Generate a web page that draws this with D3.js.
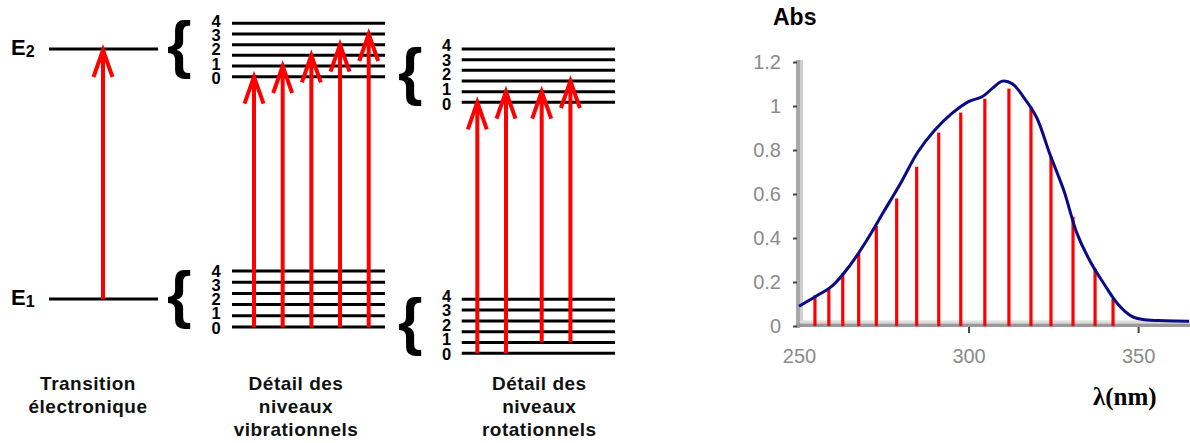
<!DOCTYPE html>
<html><head><meta charset="utf-8">
<script src="https://cdn.jsdelivr.net/npm/d3@7"></script>
<style>body{margin:0;background:#fff}svg{display:block}</style>
</head><body>
<svg id="c" width="1190" height="443"></svg>
<script>
// ---------- DATA ----------
// Energy diagram
const electronicLevels = [1, 2];                 // E1, E2
const vibLines = [0, 1, 2, 3, 4, 5];             // drawn level lines
const levelLabels = ["0", "1", "2", "3", "4"];   // printed quantum numbers
const vibTransitions = [[0, 0], [0, 1], [0, 2], [0, 3], [0, 4]];   // [lower v, upper v]
const rotTransitions = [[0, 0], [0, 1], [1, 1], [1, 2]];           // [lower J, upper J]
const rotGroups = [0, 0, 1, 1];
const captions = [
  ["Transition", "électronique"],
  ["Détail des", "niveaux", "vibrationnels"],
  ["Détail des", "niveaux", "rotationnels"]
];
// Absorption spectrum
const curveNm  = [250, 255, 260, 265, 270, 275, 280, 285, 290, 295, 300, 304, 307, 310, 313, 316, 320, 324, 328, 332, 336, 340, 344, 348, 352, 358, 365];
const curveAbs = [0.09, 0.135, 0.185, 0.275, 0.39, 0.52, 0.65, 0.79, 0.89, 0.965, 1.02, 1.042, 1.08, 1.113, 1.1, 1.045, 0.95, 0.78, 0.62, 0.42, 0.29, 0.19, 0.1, 0.045, 0.028, 0.024, 0.022];
const barNm  = [254.7, 258.8, 262.9, 267.6, 272.8, 278.8, 284.7, 291.2, 297.7, 304.8, 311.9, 318.4, 324.3, 330.8, 337.3, 342.6];
const barAbs = [0.14, 0.17, 0.24, 0.33, 0.455, 0.58, 0.724, 0.879, 0.97, 1.033, 1.079, 0.997, 0.77, 0.497, 0.259, 0.123];
const yTicks = [0, 0.2, 0.4, 0.6, 0.8, 1, 1.2];
const xTicks = [250, 300, 350];
const yTitle = "Abs";
const xTitle = "λ(nm)";

// ---------- DRAW ----------
const svg = d3.select("#c");
svg.append("rect").attr("width", 1190).attr("height", 443).attr("fill", "#fff");
const RED = "#ff0000";
const SANS = "Liberation Sans, Arial, sans-serif";
const g = svg.append("g");

function arrow(x, y0, y1) {
  g.append("line").attr("x1", x).attr("x2", x).attr("y1", y0).attr("y2", y1 + 1)
    .attr("stroke", RED).attr("stroke-width", 4);
  g.append("path")
    .attr("d", d3.line()([[x - 9.5, y1 + 27], [x, y1], [x + 9.5, y1 + 27]]))
    .attr("fill", "none").attr("stroke", RED).attr("stroke-width", 4)
    .attr("stroke-linejoin", "miter");
}
function levels(ys, x0, x1) {
  g.selectAll(null).data(vibLines).enter().append("line")
    .attr("x1", x0).attr("x2", x1).attr("y1", d => ys(d)).attr("y2", d => ys(d))
    .attr("stroke", "#000").attr("stroke-width", 3);
}
function labels(ls, x) {
  g.selectAll(null).data(levelLabels).enter().append("text")
    .attr("x", x).attr("y", (d, i) => ls(i)).attr("dy", "0.36em")
    .attr("text-anchor", "middle").attr("font-family", SANS)
    .attr("font-weight", "bold").attr("font-size", 16.5).text(d => d);
}
function brace(x, cy, size) {
  g.append("text").attr("x", x).attr("y", cy).attr("dy", "0.27em")
    .attr("font-family", SANS).attr("font-weight", "bold")
    .attr("font-size", size).text("{");
}
function caption(lines, cx, y0) {
  const t = g.append("text").attr("text-anchor", "middle")
    .attr("font-family", SANS).attr("font-weight", "bold")
    .attr("font-size", 19).attr("letter-spacing", 0.5).attr("fill", "#111");
  lines.forEach((l, i) => t.append("tspan").attr("x", cx).attr("y", y0 + i * 23).text(l));
}

// Electronic panel
const eY = d3.scaleLinear().domain([1, 2]).range([299, 49]);
g.selectAll(null).data(electronicLevels).enter().append("line")
  .attr("x1", 49).attr("x2", 158).attr("y1", d => eY(d)).attr("y2", d => eY(d))
  .attr("stroke", "#000").attr("stroke-width", 3);
electronicLevels.forEach(d => {
  const t = g.append("text").attr("x", 11).attr("y", eY(d) + 6)
    .attr("font-family", SANS).attr("font-weight", "bold")
    .attr("font-size", 22).text("E");
  t.append("tspan").attr("font-size", 16).attr("dy", 2).text(d);
});
arrow(103, eY(1), eY(2) + 1);

// Vibrational panel
const vUp = d3.scaleLinear().domain([0, 5]).range([76.7, 23.3]);
const vLo = d3.scaleLinear().domain([0, 5]).range([327, 271]);
const vLabUp = d3.scaleLinear().domain([0, 4]).range([78.3, 20.7]);
const vLabLo = d3.scaleLinear().domain([0, 4]).range([327.7, 271]);
levels(vUp, 232, 385); levels(vLo, 232, 385);
labels(vLabUp, 216); labels(vLabLo, 216);
brace(167, eY(2), 63); brace(167, eY(1), 63);
const vX = d3.scalePoint().domain(d3.range(vibTransitions.length)).range([254, 368.7]);
vibTransitions.forEach(([a, b], i) => arrow(vX(i), vLo(a), vUp(b)));

// Rotational panel
const rUp = d3.scaleLinear().domain([0, 5]).range([102.3, 49]);
const rLo = d3.scaleLinear().domain([0, 5]).range([353.3, 299.3]);
const rLabUp = d3.scaleLinear().domain([0, 4]).range([104, 45]);
const rLabLo = d3.scaleLinear().domain([0, 4]).range([354, 296]);
levels(rUp, 461.7, 615); levels(rLo, 461.7, 615);
labels(rLabUp, 446.7); labels(rLabLo, 446.7);
brace(398, (rUp(0) + rUp(5)) / 2, 63); brace(398, (rLo(0) + rLo(5)) / 2, 63);
rotTransitions.forEach(([a, b], i) => {
  const x = 477.3 + i * 28.7 + rotGroups[i] * 7;
  arrow(x, rLo(a), rUp(b));
});

// Captions
caption(captions[0], 88, 390);
caption(captions[1], 296, 390);
caption(captions[2], 539.3, 390);

// ---------- Spectrum ----------
const x = d3.scaleLinear().domain([250, 365]).range([799, 1189]);
const y = d3.scaleLinear().domain([0, 1.2]).range([326, 62]);
const s = svg.append("g");

// axis bands
s.append("rect").attr("x", 800).attr("y", 60).attr("width", 3).attr("height", 266).attr("fill", "#cfcfcf");
s.append("rect").attr("x", 796).attr("y", 60).attr("width", 4).attr("height", 268).attr("fill", "#a8a8a8");
s.append("rect").attr("x", 800).attr("y", 320.5).attr("width", 390).attr("height", 3).attr("fill", "#dcdcdc");
s.append("rect").attr("x", 796).attr("y", 323.5).attr("width", 394).attr("height", 3.5).attr("fill", "#999");

// y axis ticks & labels
const ya = s.append("g").attr("transform", "translate(797,0)")
  .call(d3.axisLeft(y).tickValues(yTicks).tickSize(4).tickPadding(12)
    .tickFormat(d => String(+d.toFixed(1))));
ya.select(".domain").remove();
ya.selectAll("line").attr("stroke", "#444").attr("stroke-width", 2);
ya.selectAll("text").attr("font-family", SANS)
  .attr("font-size", 20).attr("fill", "#8a8a8a");

// x axis ticks & labels
const xa = s.append("g").attr("transform", "translate(0,327)")
  .call(d3.axisBottom(x).tickValues(xTicks).tickSize(6).tickPadding(16).tickFormat(d3.format("d")));
xa.select(".domain").remove();
xa.selectAll("line").attr("stroke", "#444").attr("stroke-width", 2)
  .attr("opacity", (d) => d === 250 ? 0 : 1);
xa.selectAll("text").attr("font-family", SANS)
  .attr("font-size", 20).attr("fill", "#8a8a8a");

// bars
s.selectAll(".bar").data(barNm).enter().append("line").attr("class", "bar")
  .attr("x1", d => x(d)).attr("x2", d => x(d))
  .attr("y1", y(0)).attr("y2", (d, i) => y(barAbs[i]))
  .attr("stroke", RED).attr("stroke-width", 3.2);

// curve
s.append("path").datum(curveNm.map((d, i) => [d, curveAbs[i]]))
  .attr("d", d3.line().x(d => x(d[0])).y(d => y(d[1])).curve(d3.curveCatmullRom.alpha(0.5)))
  .attr("fill", "none").attr("stroke", "#0a0a86").attr("stroke-width", 3);

// titles
s.append("text").attr("x", 773).attr("y", 25).attr("font-family", SANS)
  .attr("font-weight", "bold").attr("font-size", 23).text(yTitle);
s.append("text").attr("x", 1093).attr("y", 405).attr("font-family", "Liberation Serif, Times New Roman, serif")
  .attr("font-weight", "bold").attr("font-size", 25).text(xTitle);
</script>
</body></html>
